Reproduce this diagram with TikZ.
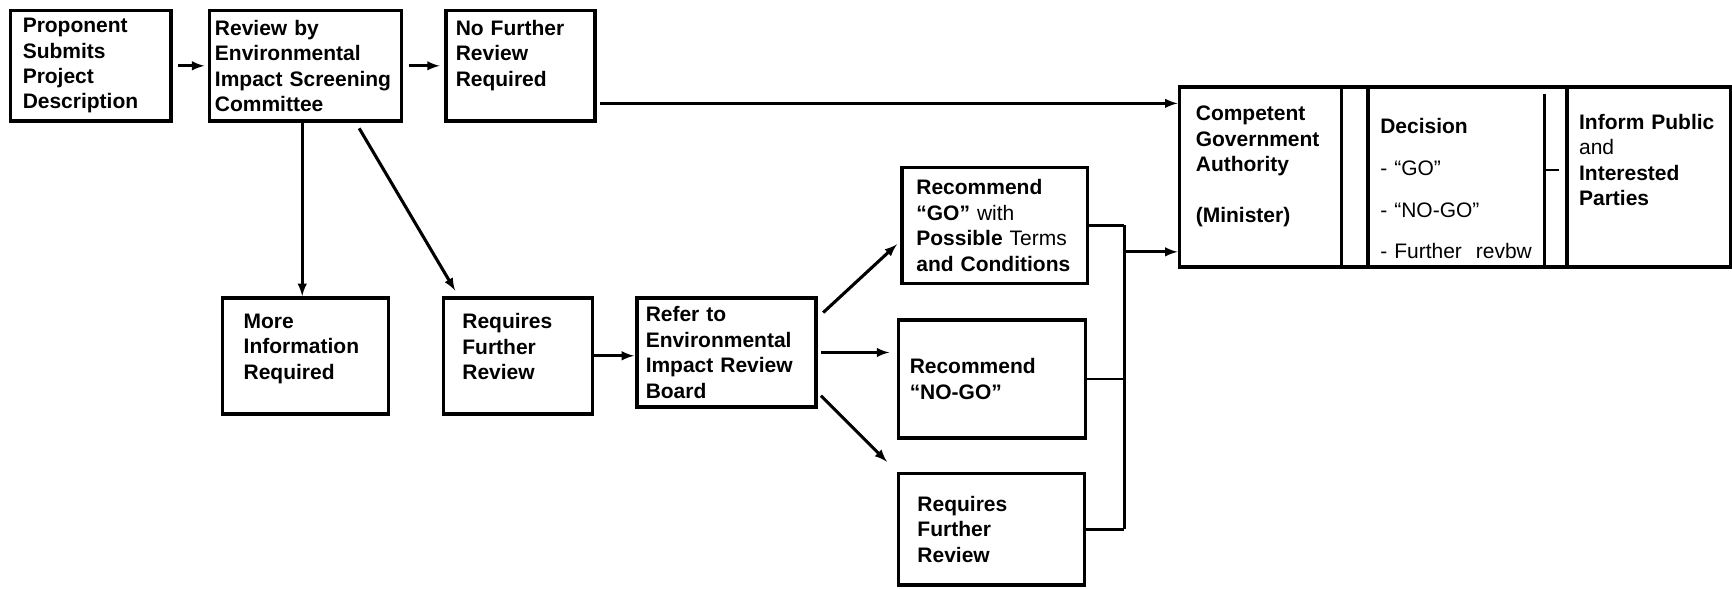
\documentclass[tikz,border=0pt]{standalone}
\usepackage{fontspec}
\setmainfont{Liberation Sans}
\usetikzlibrary{arrows, calc}

\begin{document}
\begin{tikzpicture}[x=1pt, y=-1pt,
    stagebox/.style={draw, line width=3.2pt, anchor=north west, inner sep=0pt, align=left,
        font=\fontsize{19}{23}\selectfont\bfseries},
    arr/.style={->, >=latex, line width=2.8pt}]
    \useasboundingbox (0,0) rectangle (1568,533);

    % screening stage
    \node[stagebox, minimum width=145, minimum height=100, text width=123] (prop) at (8,8)
        {Proponent\\Submits\\Project\\Description};
    \node[stagebox, minimum width=174, minimum height=100, text width=164] (screen) at (188,8)
        {Review by\\Environmental\\Impact Screening\\Committee};
    \node[stagebox, minimum width=135, minimum height=100, text width=117] (nofurther) at (402,8)
        {No Further\\Review\\Required\\\mbox{}};
    \node[stagebox, minimum width=150, minimum height=105, text width=112] (moreinfo) at (200,268)
        {More\\Information\\Required\\[-6pt]\mbox{}};
    \node[stagebox, minimum width=135, minimum height=105, text width=101] (reqrev) at (400,268)
        {Requires\\Further\\Review\\[-6pt]\mbox{}};

    % review board stage
    \node[stagebox, minimum width=162, minimum height=99, text width=146] (board) at (575,268)
        {Refer to\\Environmental\\Impact Review\\Board};
    \node[stagebox, minimum width=168, minimum height=105, text width=142] (recgo) at (815,150)
        {Recommend\\“GO” \mdseries with\\\bfseries Possible \mdseries Terms\\\bfseries and Conditions};
    \node[stagebox, minimum width=169, minimum height=107, text width=149] (recnogo) at (812,288)
        {Recommend\\“NO-GO”};
    \node[stagebox, minimum width=168, minimum height=101, text width=134] (reqrev2) at (812,427)
        {Requires\\Further\\Review};

    % decision
    \node[stagebox, minimum width=147, minimum height=163, text width=117] (cga) at (1066,77)
        {Competent\\Government\\Authority\\\mbox{}\\(Minister)\\\mbox{}};
    \node[stagebox, minimum width=24, minimum height=163] (gap) at (1213,77) {};
    \node[stagebox, minimum width=180, minimum height=163, text width=158] (dec) at (1237,77)
        {\mbox{}\\[12pt]Decision\\[15pt]\mdseries - “GO”\\[15pt]- “NO-GO”\\[14pt]- Further~~revbw};
    \node[stagebox, minimum width=148, minimum height=163, text width=126] (inform) at (1417,77)
        {Inform Public\\\mdseries and\\\bfseries Interested\\Parties\\[8pt]\mbox{}};
    \draw[line width=3pt] ([xshift=-22pt,yshift=-8pt]dec.north east) -- ([xshift=-22pt,yshift=2pt]dec.south east);
    \draw[line width=1.8pt] ([xshift=-22pt,yshift=6pt]dec.east) -- ([xshift=-9pt,yshift=6pt]dec.east);

    % connectors
    \draw[arr, shorten <=5pt, shorten >=3pt] (prop) -- (screen);
    \draw[arr, shorten <=5pt, shorten >=4pt] (screen) -- (nofurther);
    \draw[arr] ([xshift=-3pt]screen.south) -- ([xshift=-3pt]moreinfo.north);
    \draw[arr] ([xshift=-40pt,yshift=-5pt]screen.south east) -- ([xshift=12pt,yshift=5pt]reqrev.north west);
    \coordinate (cd) at ([xshift=3pt,yshift=-34pt]nofurther.east);
    \draw[arr] (cd) -- (cd -| cga.west);
    \draw[arr, shorten >=1pt] (reqrev.east) -- (reqrev.east -| board.west);
    \draw[arr] ([xshift=5pt,yshift=-15pt]board.north east) -- ([xshift=-3pt,yshift=37pt]recgo.south west);
    \draw[arr, shorten <=3pt, shorten >=7pt] (board.east) -- (board.east -| recnogo.west);
    \draw[arr] ([xshift=3pt,yshift=12pt]board.south east) -- ([xshift=-9pt,yshift=9pt]reqrev2.north west);

    % bracket to the authority
    \coordinate (bx) at (1018,203);
    \coordinate (bout) at (1018,228);
    \draw[line width=2.4pt] (recgo.east) -- (recgo.east -| bx);
    \draw[line width=2.4pt] (recnogo.east) -- (recnogo.east -| bx);
    \draw[line width=2.4pt] (reqrev2.east) -- (reqrev2.east -| bx);
    \draw[line width=3.4pt] (recgo.east -| bx) -- (reqrev2.east -| bx);
    \draw[arr] (bout) -- (bout -| cga.west);
\end{tikzpicture}
\end{document}
